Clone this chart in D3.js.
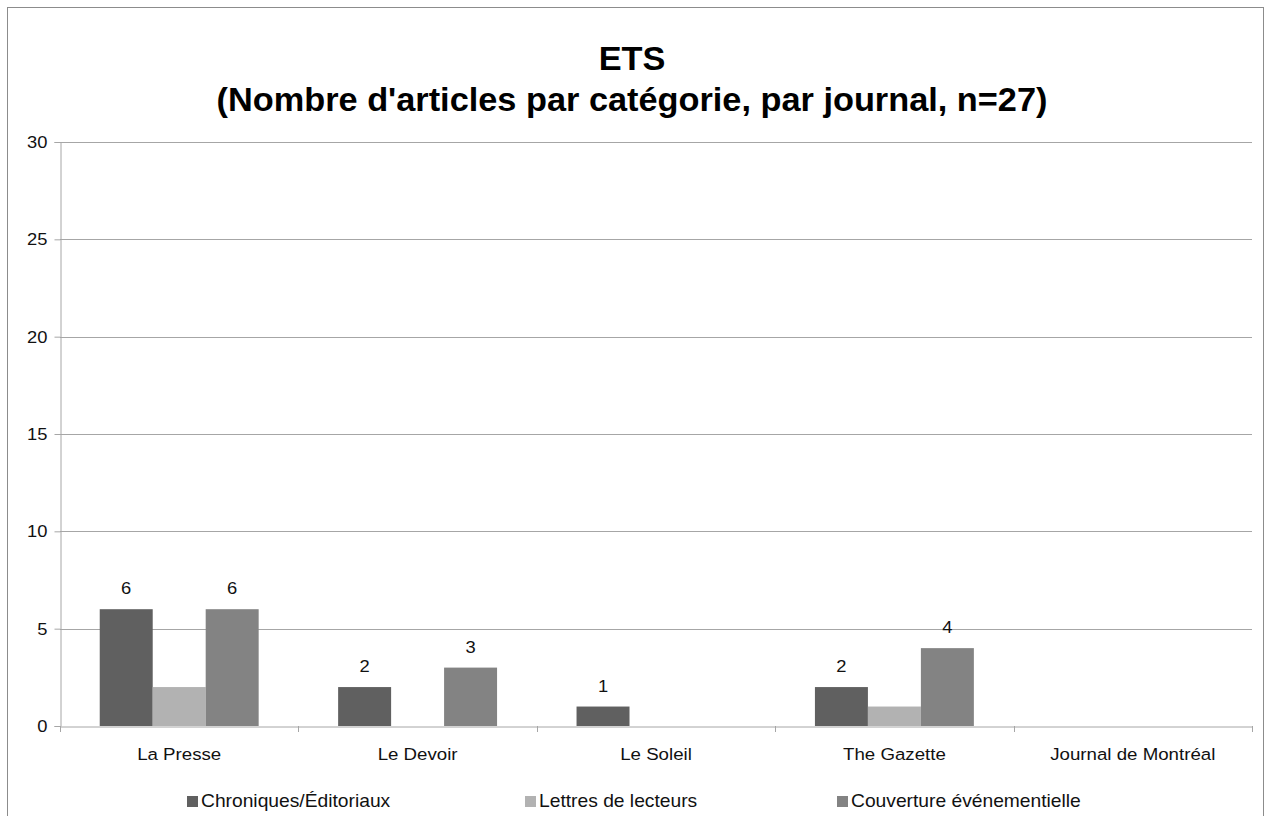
<!DOCTYPE html>
<html><head><meta charset="utf-8">
<script src="https://cdn.jsdelivr.net/npm/d3@7"></script>
<style>body{margin:0;background:#fff;}svg{display:block;font-family:"Liberation Sans",Arial,sans-serif;}</style>
</head><body>
<svg id="c" width="1265" height="816"></svg>
<script>
const categories = ["La Presse","Le Devoir","Le Soleil","The Gazette","Journal de Montréal"];
const seriesNames = ["Chroniques/Éditoriaux","Lettres de lecteurs","Couverture événementielle"];
const chroniques = [6,2,1,2,0];
const lettres = [2,0,0,1,0];
const couverture = [6,3,0,4,0];
const showLabels = [true,false,true];
const yTicks = [0,5,10,15,20,25,30];
const titleLines = ["ETS","(Nombre d'articles par catégorie, par journal, n=27)"];
const colors = ["#606060","#b2b2b2","#838383"];

const values = [chroniques, lettres, couverture];
const SX = 1.08;
const svg = d3.select("#c");
svg.append("rect").attr("x",7.5).attr("y",7.5).attr("width",1256).attr("height",820)
  .attr("fill","#fff").attr("stroke","#8c8c8c").attr("stroke-width",1);

const L=60, R=1252, T=142, B=726;
const x = d3.scaleBand().domain(categories).range([L,R]).paddingInner(0).paddingOuter(0);
const inner = d3.scaleBand().domain(d3.range(seriesNames.length)).range([0,x.bandwidth()]).paddingOuter(0.75).paddingInner(0);
const y = d3.scaleLinear().domain([0,30]).range([B,T]);

// gridlines
svg.append("g").selectAll("line").data(yTicks.filter(d=>d>0)).join("line")
  .attr("x1",L).attr("x2",R).attr("y1",d=>Math.round(y(d))+0.5).attr("y2",d=>Math.round(y(d))+0.5)
  .attr("stroke","#a6a6a6").attr("stroke-width",1);

// y axis
const ya = svg.append("g").attr("transform",`translate(${L+0.5},0)`)
  .call(d3.axisLeft(y).tickValues(yTicks).tickSize(6).tickPadding(6).tickFormat(d3.format("d")));
ya.select(".domain").attr("stroke","#a6a6a6");
ya.selectAll(".tick line").attr("stroke","#a6a6a6");
ya.selectAll(".tick text").attr("font-size",17).attr("fill","#111").attr("font-family","Liberation Sans, Arial, sans-serif")
  .attr("transform",`scale(${SX},1)`);

// bars
values.forEach((vals,si)=>{
  const g = svg.append("g");
  g.selectAll("rect").data(categories.map((c,i)=>({c,v:vals[i]}))).join("rect")
    .attr("x",d=>x(d.c)+inner(si)).attr("width",inner.bandwidth())
    .attr("y",d=>y(d.v)).attr("height",d=>y(0)-y(d.v)).attr("fill",colors[si]);
  if(showLabels[si]){
    g.selectAll("text").data(categories.map((c,i)=>({c,v:vals[i]})).filter(d=>d.v>0)).join("text")
      .attr("transform",d=>`translate(${x(d.c)+inner(si)+inner.bandwidth()/2},${y(d.v)-15}) scale(${SX},1)`)
      .attr("text-anchor","middle").attr("font-size",17).attr("fill","#111").text(d=>d.v);
  }
});

// x axis
const xa = svg.append("g").attr("transform",`translate(0,${B+0.5})`)
  .call(d3.axisBottom(x).tickSize(0).tickPadding(21));
xa.select(".domain").attr("stroke","#a6a6a6");
xa.selectAll(".tick text").attr("font-size",17.3).attr("fill","#111").attr("font-family","Liberation Sans, Arial, sans-serif")
  .attr("transform",`scale(${SX},1)`);
const bounds = categories.map(c=>x(c)).concat([R]);
svg.append("g").selectAll("line").data(bounds).join("line")
  .attr("x1",d=>Math.round(d)+0.5).attr("x2",d=>Math.round(d)+0.5).attr("y1",B).attr("y2",B+6)
  .attr("stroke","#a6a6a6");

// title
svg.append("g").selectAll("text").data(titleLines).join("text")
  .attr("transform",(d,i)=>`translate(632,${70+i*41}) scale(1.04,1)`).attr("text-anchor","middle")
  .attr("font-size",33).attr("font-weight","bold").attr("fill","#000").text(d=>d);

// legend
const legX = [187,525,837];
const lg = svg.append("g");
seriesNames.forEach((n,i)=>{
  lg.append("rect").attr("x",legX[i]).attr("y",796).attr("width",11).attr("height",11).attr("fill",colors[i]);
  lg.append("text").attr("transform",`translate(${legX[i]+14},807) scale(1.1,1)`).attr("font-size",17.5).attr("fill","#111").text(n);
});
</script>
</body></html>
